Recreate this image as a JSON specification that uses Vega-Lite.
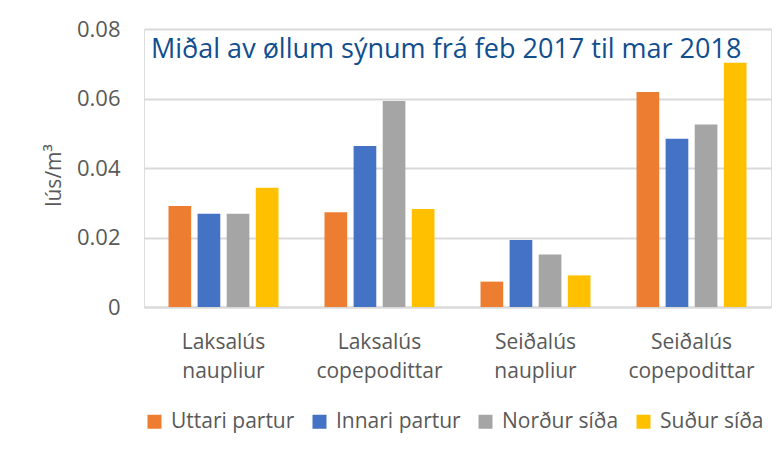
{
  "$schema": "https://vega.github.io/schema/vega-lite/v6.json",
  "width": 627,
  "height": 278,
  "autosize": {"type": "none"},
  "padding": {"left": 144, "top": 29, "right": 8, "bottom": 145},
  "background": "white",
  "title": {
    "text": "Miðal av øllum sýnum frá feb 2017 til mar 2018",
    "anchor": "start",
    "frame": "group",
    "font": "Open Sans",
    "fontSize": 27,
    "fontWeight": "normal",
    "color": "#114e8e",
    "dx": 7,
    "dy": 50
  },
  "data": {
    "values": [
      {"group": "Laksalús naupliur", "series": "Uttari partur", "value": 0.0291},
      {"group": "Laksalús naupliur", "series": "Innari partur", "value": 0.0268},
      {"group": "Laksalús naupliur", "series": "Norður síða", "value": 0.0268},
      {"group": "Laksalús naupliur", "series": "Suður síða", "value": 0.0343},
      {"group": "Laksalús copepodittar", "series": "Uttari partur", "value": 0.0273},
      {"group": "Laksalús copepodittar", "series": "Innari partur", "value": 0.0463},
      {"group": "Laksalús copepodittar", "series": "Norður síða", "value": 0.0593},
      {"group": "Laksalús copepodittar", "series": "Suður síða", "value": 0.0282},
      {"group": "Seiðalús naupliur", "series": "Uttari partur", "value": 0.0073},
      {"group": "Seiðalús naupliur", "series": "Innari partur", "value": 0.0193},
      {"group": "Seiðalús naupliur", "series": "Norður síða", "value": 0.0151},
      {"group": "Seiðalús naupliur", "series": "Suður síða", "value": 0.0091},
      {"group": "Seiðalús copepodittar", "series": "Uttari partur", "value": 0.0619},
      {"group": "Seiðalús copepodittar", "series": "Innari partur", "value": 0.0484},
      {"group": "Seiðalús copepodittar", "series": "Norður síða", "value": 0.0525},
      {"group": "Seiðalús copepodittar", "series": "Suður síða", "value": 0.0703}
    ]
  },
  "mark": {"type": "bar"},
  "encoding": {
    "x": {
      "field": "group",
      "type": "nominal",
      "sort": ["Laksalús naupliur", "Laksalús copepodittar", "Seiðalús naupliur", "Seiðalús copepodittar"],
      "scale": {"paddingInner": 0.295, "paddingOuter": 0.157},
      "axis": {
        "title": null,
        "labelAngle": 0,
        "labelExpr": "split(datum.label, ' ')",
        "labelFont": "Open Sans",
        "labelFontSize": 21,
        "labelColor": "#595959",
        "labelLineHeight": 29,
        "labelPadding": 24,
        "ticks": false,
        "domainColor": "#d9d9d9",
        "domainWidth": 2,
        "grid": false
      }
    },
    "xOffset": {
      "field": "series",
      "type": "nominal",
      "sort": ["Uttari partur", "Innari partur", "Norður síða", "Suður síða"],
      "scale": {"paddingInner": 0.22, "paddingOuter": 0}
    },
    "y": {
      "field": "value",
      "type": "quantitative",
      "scale": {"domain": [0, 0.08]},
      "axis": {
        "title": "lús/m³",
        "titleFont": "Open Sans",
        "titleFontSize": 21,
        "titleFontWeight": "normal",
        "titleColor": "#595959",
        "titlePadding": 12,
        "titleY": 146,
        "values": [0, 0.02, 0.04, 0.06, 0.08],
        "labelExpr": "datum.value == 0 ? '0' : format(datum.value, '.2f')",
        "labelFont": "Open Sans",
        "labelFontSize": 22,
        "labelColor": "#595959",
        "labelPadding": 24,
        "ticks": false,
        "domain": false,
        "gridColor": "#d9d9d9",
        "gridWidth": 2
      }
    },
    "color": {
      "field": "series",
      "type": "nominal",
      "sort": ["Uttari partur", "Innari partur", "Norður síða", "Suður síða"],
      "scale": {
        "domain": ["Uttari partur", "Innari partur", "Norður síða", "Suður síða"],
        "range": ["#ed7d31", "#4472c4", "#a5a5a5", "#ffc000"]
      },
      "legend": {
        "title": null,
        "orient": "bottom",
        "direction": "horizontal",
        "symbolType": "square",
        "symbolSize": 196,
        "symbolStrokeWidth": 0,
        "labelFont": "Open Sans",
        "labelFontSize": 21,
        "labelColor": "#595959",
        "labelOffset": 6,
        "columnPadding": 14,
        "offset": 30
      }
    }
  }
}
